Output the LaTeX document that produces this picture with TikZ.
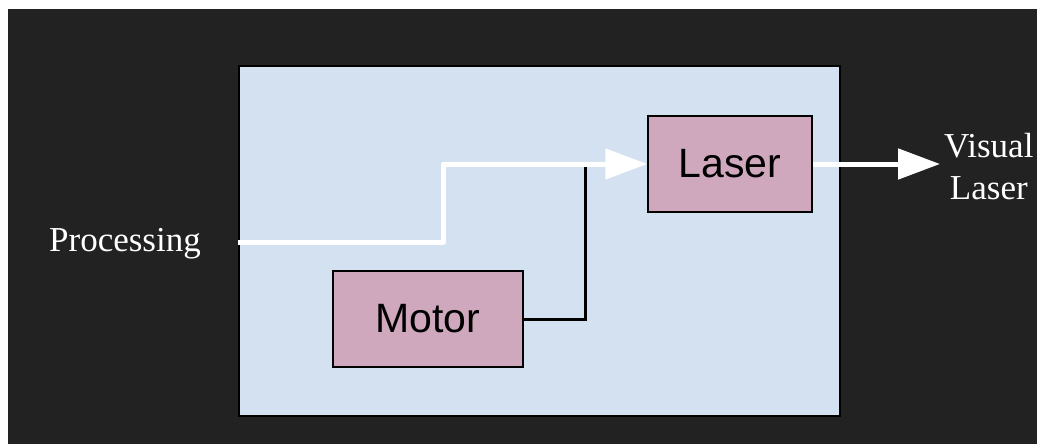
\documentclass[tikz,border=0pt]{standalone}
\usepackage{fontspec}
\setmainfont{Liberation Serif}
\newfontfamily\boxfont{Liberation Sans}
\usetikzlibrary{arrows.meta}
\definecolor{pagebg}{HTML}{222222}
\definecolor{panel}{HTML}{D4E1F1}
\definecolor{unit}{HTML}{CFA8BE}
\tikzset{
  unitbox/.style={draw=black, line width=1.5pt, fill=unit, inner sep=0pt,
    font=\boxfont\fontsize{41}{48}\selectfont},
  label/.style={text=white, font=\fontsize{35}{42}\selectfont, align=center, inner sep=0pt},
  beam/.style={draw=white, line width=5pt, line join=round},
  beamtip/.style={-{Triangle[length=42pt,width=30pt]}},
  wire/.style={draw=black, line width=3pt}
}
\begin{document}
\begin{tikzpicture}[x=1pt,y=-1pt]
  \useasboundingbox (0,0) rectangle (1037,444);
  \fill[white] (0,0) rectangle (1037,444);
  \fill[pagebg] (8,9) rectangle (1037,444);
  % main panel
  \node[draw=black, line width=1.5pt, fill=panel, minimum width=601pt, minimum height=350pt,
    inner sep=0pt] (panel) at (539.5,241) {};
  \node[unitbox, minimum width=164pt, minimum height=96pt] (laser) at (730,164) {Laser};
  \node[unitbox, minimum width=190pt, minimum height=96pt] (motor) at (428,319) {Motor};
  \node[label] (proc) at (125,244) {Processing};
  \node[label, anchor=west] (vis) at (944,167) {Visual\\Laser};
  % connectors
  \coordinate (in) at (panel.west |- 0,242);
  \draw[beam, beamtip] (in) -- (443,242) -- (443,164) -- (laser.west);
  \draw[wire] (motor.east) -- (585,319) -- (585,167);
  \draw[beam, beamtip] (laser.east) -- (940,164);
\end{tikzpicture}
\end{document}
